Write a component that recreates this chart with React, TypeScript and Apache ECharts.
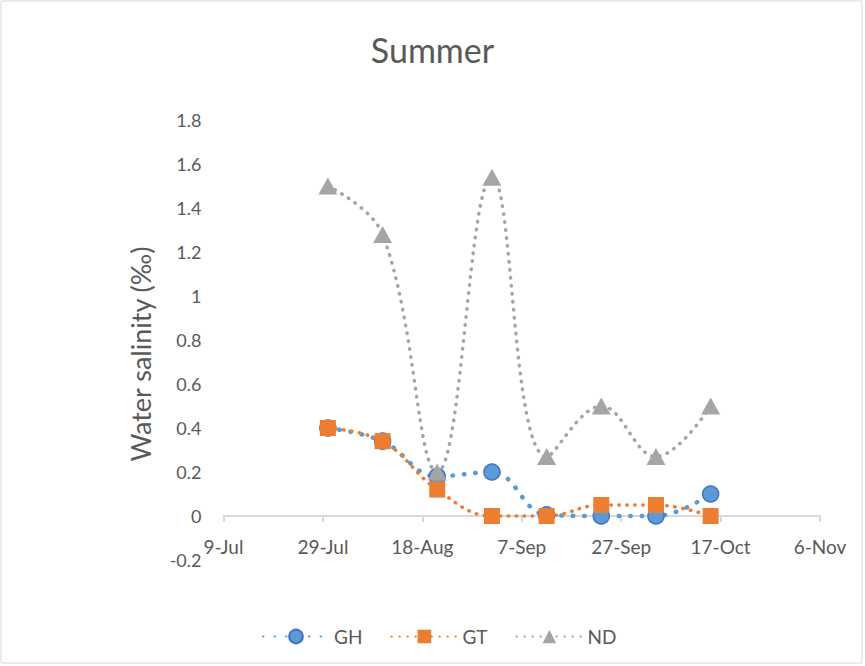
import React, { useEffect, useRef } from "react";
import * as echarts from "echarts";

const baseDate = "2019-07-09";
const sampleDates = ["2019-07-30", "2019-08-10", "2019-08-21", "2019-09-01", "2019-09-12", "2019-09-23", "2019-10-04", "2019-10-15"];
const ghValues = [0.4, 0.34, 0.18, 0.2, 0.005, 0.0, 0.0, 0.1];
const gtValues = [0.4, 0.34, 0.12, 0.0, 0.0, 0.05, 0.05, 0.0];
const ndValues = [1.5, 1.28, 0.2, 1.54, 0.27, 0.5, 0.27, 0.5];
const seriesNames = ["GH", "GT", "ND"];
const months = ["Jan", "Feb", "Mar", "Apr", "May", "Jun", "Jul", "Aug", "Sep", "Oct", "Nov", "Dec"];

const DAY = 86400000;
const baseMs = Date.parse(baseDate + "T00:00:00Z");
const toDays = (s: string) => Math.round((Date.parse(s + "T00:00:00Z") - baseMs) / DAY);
const fmtDay = (v: number) => {
  const d = new Date(baseMs + v * DAY);
  return `${d.getUTCDate()}-${months[d.getUTCMonth()]}`;
};

const FONT = "Lato, 'Open Sans', sans-serif";
const TXT = "#595959";

export default function App() {
  const ref = useRef<HTMLDivElement>(null);
  useEffect(() => {
    document.body.style.margin = "0";
    const chart = echarts.init(ref.current!, null, { renderer: "svg" });
    const xs = sampleDates.map(toDays);
    const mk = (vals: number[]) => vals.map((v, i) => [xs[i], v]);
    chart.setOption({
      animation: false,
      backgroundColor: "#ffffff",
      textStyle: { fontFamily: FONT },
      title: {
        text: "Summer",
        left: "center",
        top: 27,
        textStyle: { fontSize: 34, fontWeight: "normal", color: TXT, fontFamily: FONT },
      },
      legend: {
        data: seriesNames,
        left: 257,
        top: 622,
        itemWidth: 66,
        itemHeight: 17,
        itemGap: 28,
        textStyle: { fontSize: 19, color: TXT, fontFamily: FONT },
      },
      grid: { left: 223.5, right: 45, top: 120, bottom: 106, containLabel: false },
      xAxis: {
        type: "value",
        min: 0,
        max: 120,
        interval: 20,
        axisLine: { show: true, onZero: true, lineStyle: { color: "#d9d9d9", width: 2 } },
        axisTick: { show: true, length: 6, lineStyle: { color: "#d9d9d9", width: 2 } },
        splitLine: { show: false },
        axisLabel: { formatter: (v: number) => fmtDay(v), fontSize: 19, color: TXT, margin: -23, fontFamily: FONT },
      },
      yAxis: {
        type: "value",
        min: -0.2,
        max: 1.8,
        interval: 0.2,
        axisLine: { show: false },
        axisTick: { show: false },
        splitLine: { show: false },
        axisLabel: {
          formatter: (v: number) => String(Math.round(v * 10) / 10),
          fontSize: 18,
          color: TXT,
          margin: 22,
          fontFamily: FONT,
        },
      },
      graphic: [
        {
          type: "rect",
          shape: { x: 1, y: 1, width: 861, height: 662 },
          style: { fill: "none", stroke: "#d9d9d9", lineWidth: 1 },
          silent: true,
        },
        {
          type: "text",
          x: 140,
          y: 354,
          rotation: Math.PI / 2,
          style: {
            text: "Water salinity (‰)",
            fontSize: 27,
            fill: TXT,
            fontFamily: FONT,
            align: "center",
            verticalAlign: "middle",
          },
        },
      ],
      series: [
        {
          name: "GH",
          type: "line",
          data: mk(ghValues),
          smooth: 0.4,
          symbol: "circle",
          symbolSize: 16,
          itemStyle: { color: "#5B9BD5", borderColor: "#4472C4", borderWidth: 1.5 },
          lineStyle: { color: "#5B9BD5", width: 4.5, type: [0.5, 11], cap: "round" },
          z: 2,
        },
        {
          name: "GT",
          type: "line",
          data: mk(gtValues),
          smooth: 0.4,
          symbol: "rect",
          symbolSize: 16,
          itemStyle: { color: "#ED7D31" },
          lineStyle: { color: "#ED7D31", width: 3.5, type: [0.5, 7.5], cap: "round" },
          z: 3,
        },
        {
          name: "ND",
          type: "line",
          data: mk(ndValues),
          smooth: 0.4,
          symbol: "triangle",
          symbolSize: [19, 17],
          itemStyle: { color: "#A5A5A5" },
          lineStyle: { color: "#A5A5A5", width: 3.5, type: [0.5, 7.5], cap: "round" },
          z: 4,
        },
      ],
    });
    return () => chart.dispose();
  }, []);
  return <div ref={ref} style={{ position: "absolute", left: 0, top: 0, width: 865, height: 666 }} />;
}
